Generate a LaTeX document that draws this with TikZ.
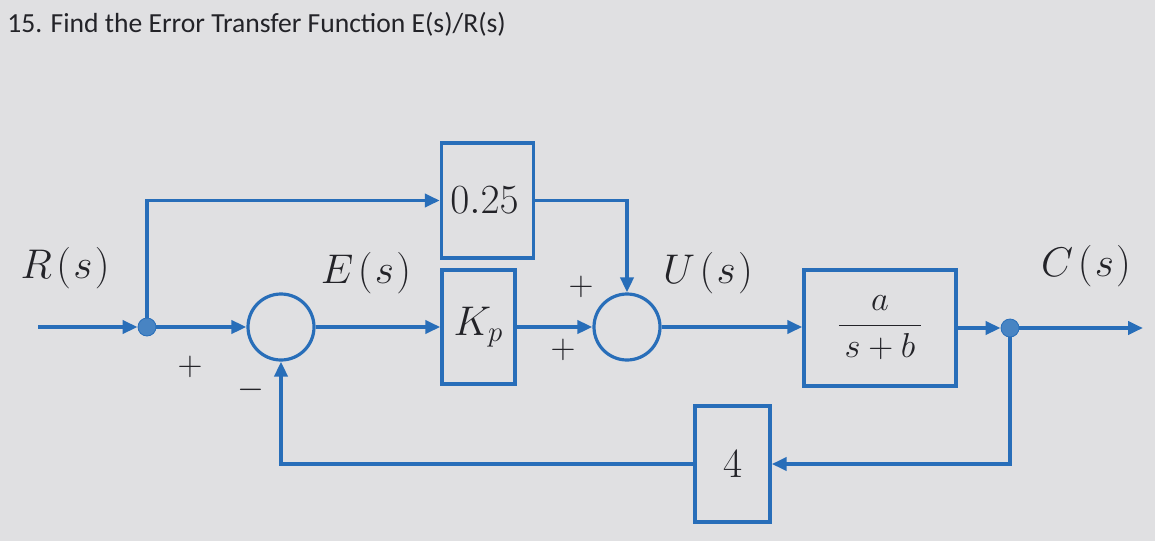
\documentclass[tikz,border=0pt]{standalone}
\usepackage{fontspec}
\newfontfamily\titlefont{Carlito}
\usetikzlibrary{arrows.meta}
\definecolor{lineblue}{RGB}{40,110,185}
\definecolor{paper}{RGB}{224,224,226}
\definecolor{ink}{RGB}{35,35,40}
\begin{document}
\begin{tikzpicture}[x=0.5pt,y=-0.5pt,
  conn/.style={draw=lineblue,line width=1.9pt,-{Triangle[length=7.5pt,width=6.5pt]}},
  blk/.style={draw=lineblue,line width=1.7pt,rectangle,inner sep=0pt,text=ink,font=\fontsize{20}{24}\selectfont},
  sumc/.style={draw=lineblue,line width=1.6pt,circle,minimum size=33pt,inner sep=0pt},
  dotc/.style={fill=lineblue!85!white,draw=lineblue,circle,minimum size=9pt,inner sep=0pt},
  lab/.style={text=ink,font=\fontsize{20}{24}\selectfont},
  sgn/.style={text=ink,font=\fontsize{16}{19}\selectfont}]
\fill[paper] (0,0) rectangle (1155,541);
\useasboundingbox (0,0) rectangle (1155,541);
\node[anchor=west,text=ink,inner sep=0pt,font=\titlefont\fontsize{13.8}{17}\selectfont] (title) at (7,24) {15. Find the Error Transfer Function E(s)/R(s)};
% blocks
\node[blk,minimum width=46pt,minimum height=57.5pt] (b025) at (487.5,200.5) {$0.25$\hspace*{3pt}};
\node[blk,minimum width=36.5pt,minimum height=57pt] (bkp) at (478.5,327) {$K_p$};
\node[blk,minimum width=76pt,minimum height=58pt,font=\fontsize{18}{22}\selectfont] (plant) at (880,328) {$\displaystyle\frac{a}{\,s+b\,}$};
\node[blk,minimum width=37.5pt,minimum height=58pt] (b4) at (732.5,464) {$4$};
% summing junctions and pickoffs
\node[sumc] (s1) at (281,327) {};
\node[sumc] (s2) at (627,327) {};
\node[dotc] (j1) at (147,327) {};
\node[dotc] (j2) at (1010,328) {};
\coordinate (in) at (38,327);
\coordinate (out) at (1143,328);
% connectors
\draw[conn] (in) -- (j1);
\draw[conn] (j1) -- (s1);
\draw[conn] (j1) |- (b025.west);
\draw[conn] (s1) -- (bkp);
\draw[conn] (bkp) -- (s2);
\draw[conn] (b025.east) -| (s2.north);
\draw[conn] (s2) -- (s2 -| plant.west);
\draw[conn] (plant.east |- j2) -- (j2);
\draw[conn] (j2) -- (out);
\draw[conn] (j2) |- (b4.east);
\draw[conn] (b4.west) -| (s1.south);
% labels
\node[lab] (lR) at (65,268) {$R\mkern2mu(\mkern1mu s\mkern1mu)$};
\node[lab] (lE) at (366,273) {$E\mkern2mu(\mkern1mu s\mkern1mu)$};
\node[lab] (lU) at (708,273) {$U\mkern2mu(\mkern1mu s\mkern1mu)$};
\node[lab] (lC) at (1086,266) {$C\mkern2mu(\mkern1mu s\mkern1mu)$};
\node[sgn] (p1) at (190,367) {$+$};
\node[sgn] (m1) at (251,390) {$-$};
\node[sgn] (p2) at (581,287) {$+$};
\node[sgn] (p3) at (563,350) {$+$};
\end{tikzpicture}
\end{document}
